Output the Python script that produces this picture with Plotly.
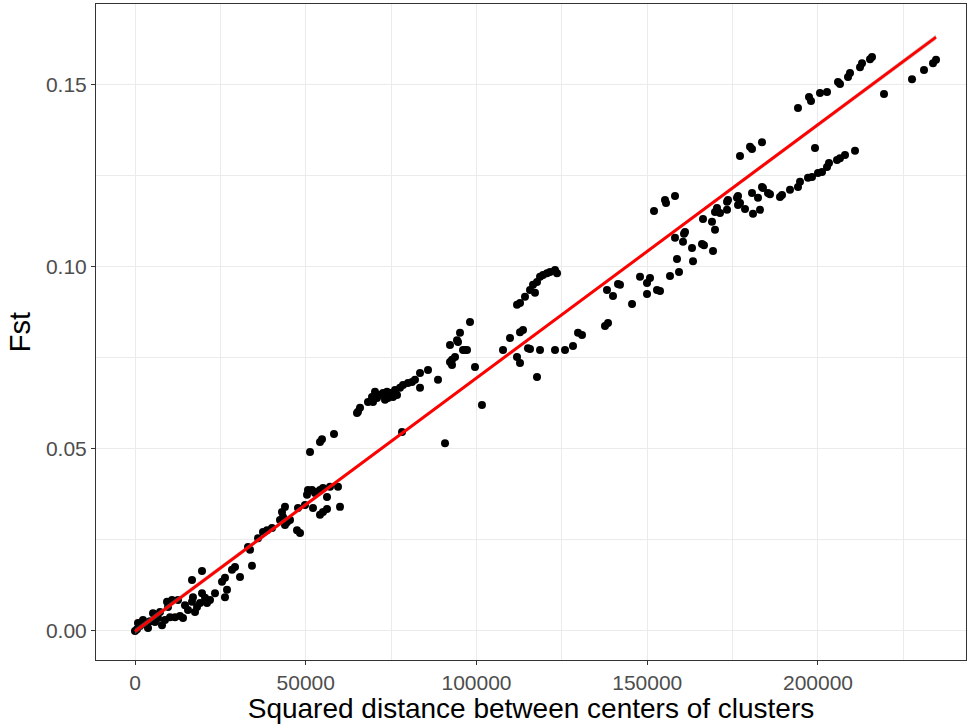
import numpy as np
import plotly.graph_objects as go

# Squared distance between cluster centres and pairwise Fst
sq_dist = [
    0, 880, 2340, 3810, 5270, 7910, 8780, 9370, 10830, 10250, 11710, 13180, 14060,
    15520, 16690, 16980, 17570, 18160, 19030, 19620, 20500, 21080, 16690, 19620,
    23430, 25480, 26350, 26940, 26350, 28400, 29280, 30750, 33680, 33090, 34260,
    590, 1460, 2930, 4390, 6730, 7320, 5860, 9660, 14640, 12590, 21960,
    37480, 38650, 40120, 42460, 43050, 43920, 43340, 44510, 45390, 43920, 47440,
    48320, 47730, 49780, 50370, 50660, 51830, 52710, 53300, 54170, 55050, 56220,
    57100, 59440, 52120, 54170, 55050, 56220, 60030, 51250, 54170, 54760, 58270,
    65010, 65300, 36020,
    65890, 68230, 69400, 69690, 70860, 71740, 72620, 73210, 73790, 74670, 75550,
    76720, 77600, 78480, 79940, 81110, 81990, 83460, 83460, 85800, 88730, 92240,
    92830, 93710, 92240, 94290, 95170, 96640, 98100, 78190, 90780, 70280, 76140,
    74090,
    92830, 94590, 96050, 97220, 99560, 107760, 109810, 111860, 112740, 112740,
    113620, 115080, 115670, 117720, 118600, 122990, 125920, 128260, 129730,
    111860, 112740, 114200, 115670, 116550, 117130, 117720, 118600, 119480,
    120650, 121530, 122990, 123580, 101600,
    130900, 137630, 138510, 145540, 147880, 149930, 150810, 149930, 152860,
    153740, 156660, 159300, 158710, 163400, 163110, 160470, 158130, 161060,
    160760, 166030, 166620, 169260, 166330, 168960, 169840, 169840, 170430,
    151980, 155200, 155500, 158130, 138210, 139970, 141430, 142020,
    171310, 173360, 173360, 173650, 176280, 176580, 176580, 177160, 178630,
    180680, 180970, 183020, 182430, 183600, 183890, 185360, 185940, 188870,
    189460, 191800, 194140, 194730, 197070, 198250, 200000, 201170, 202640,
    203220, 205560, 206440, 207910, 210840, 177160, 180090, 180680, 183600,
    199120,
    194140, 197370, 197950, 200590, 202640, 205860, 206440, 208790, 209370,
    212300, 212890, 215230, 215820, 219330, 227530, 231040, 233680, 234560,
]

fst = [
    0.0000, 0.0022, 0.0030, 0.0008, 0.0049, 0.0016, 0.0030, 0.0080, 0.0085, 0.0038,
    0.0038, 0.0041, 0.0036, 0.0058, 0.0080, 0.0093, 0.0052, 0.0066, 0.0077, 0.0104,
    0.0091, 0.0077, 0.0140, 0.0165, 0.0104, 0.0135, 0.0146, 0.0113, 0.0093, 0.0168,
    0.0176, 0.0148, 0.0223, 0.0231, 0.0179,
    0.0005, 0.0014, 0.0019, 0.0027, 0.0036, 0.0052, 0.0025, 0.0066, 0.0071, 0.0085,
    0.0085,
    0.0272, 0.0277, 0.0283, 0.0305, 0.0327, 0.0341, 0.0313, 0.0299, 0.0305, 0.0291,
    0.0277, 0.0269, 0.0338, 0.0346, 0.0374, 0.0387, 0.0387, 0.0379, 0.0382, 0.0387,
    0.0393, 0.0368, 0.0396, 0.0396, 0.0338, 0.0319, 0.0327, 0.0335, 0.0341, 0.0492,
    0.0519, 0.0527, 0.0541, 0.0599, 0.0602, 0.0255,
    0.0613, 0.0629, 0.0643, 0.0629, 0.0640, 0.0648, 0.0654, 0.0635, 0.0657, 0.0654,
    0.0643, 0.0648, 0.0668, 0.0676, 0.0681, 0.0684, 0.0690, 0.0709, 0.0668, 0.0717,
    0.0690, 0.0739, 0.0731, 0.0753, 0.0786, 0.0799, 0.0819, 0.0772, 0.0849, 0.0547,
    0.0516, 0.0657, 0.0662, 0.0640,
    0.0745, 0.0794, 0.0772, 0.0772, 0.0725, 0.0772, 0.0805, 0.0753, 0.0736, 0.0821,
    0.0827, 0.0777, 0.0775, 0.0698, 0.0772, 0.0772, 0.0772, 0.0783, 0.0819,
    0.0896, 0.0901, 0.0918, 0.0937, 0.0951, 0.0929, 0.0959, 0.0973, 0.0978,
    0.0983, 0.0986, 0.0992, 0.0983, 0.0621,
    0.0813, 0.0838, 0.0846, 0.0898, 0.0973, 0.0956, 0.0970, 0.0926, 0.0937,
    0.0934, 0.0975, 0.0986, 0.1022, 0.1016, 0.1052, 0.1069, 0.1080, 0.1096,
    0.1091, 0.1063, 0.1060, 0.1044, 0.1132, 0.1124, 0.1102, 0.1151, 0.1162,
    0.1154, 0.1184, 0.1176, 0.1195, 0.0937, 0.0920, 0.0953, 0.0951,
    0.1148, 0.1157, 0.1179, 0.1184, 0.1190, 0.1195, 0.1170, 0.1176, 0.1159,
    0.1203, 0.1146, 0.1157, 0.1190, 0.1220, 0.1217, 0.1203, 0.1200, 0.1192,
    0.1198, 0.1212, 0.1220, 0.1234, 0.1245, 0.1247, 0.1258, 0.1261, 0.1275,
    0.1286, 0.1294, 0.1299, 0.1308, 0.1319, 0.1305, 0.1330, 0.1324, 0.1343,
    0.1327,
    0.1437, 0.1467, 0.1456, 0.1478, 0.1481, 0.1508, 0.1503, 0.1522, 0.1533,
    0.1549, 0.1560, 0.1571, 0.1577, 0.1475, 0.1516, 0.1541, 0.1560, 0.1569,
]

# Linear fit (intercept, slope) and its 95% band half-widths at the centre / ends
fit_intercept = -0.0001
fit_slope = 6.96e-7
band_half_mid = 0.0003
band_half_end = 0.0008

x_ticks = [0, 50000, 100000, 150000, 200000]
y_ticks = [0.00, 0.05, 0.10, 0.15]

x = np.array(sq_dist, dtype=float)
y = np.array(fst, dtype=float)

xs = np.linspace(x.min(), x.max(), 80)
ys = fit_intercept + fit_slope * xs
xc = 0.5 * (x.min() + x.max())
u = (xs - xc) / (x.max() - xc)
half = np.sqrt(band_half_mid ** 2 + (band_half_end ** 2 - band_half_mid ** 2) * u ** 2)
lo, hi = ys - half, ys + half

FONT = "Liberation Sans, Arial, sans-serif"

fig = go.Figure()
fig.add_trace(go.Scatter(
    x=x, y=y, mode="markers",
    marker=dict(color="black", size=8, line=dict(width=0)),
    hoverinfo="x+y", showlegend=False,
))
fig.add_trace(go.Scatter(
    x=np.concatenate([xs, xs[::-1]]), y=np.concatenate([hi, lo[::-1]]),
    fill="toself", fillcolor="rgba(153,153,153,0.4)", line=dict(width=0),
    hoverinfo="skip", showlegend=False,
))
fig.add_trace(go.Scatter(
    x=xs, y=ys, mode="lines", line=dict(color="#FF0000", width=3),
    hoverinfo="skip", showlegend=False,
))

axis_common = dict(
    showline=True, linecolor="#333333", linewidth=1, mirror=True,
    ticks="outside", ticklen=4, tickcolor="#333333", tickwidth=1,
    showgrid=True, gridcolor="#EBEBEB", gridwidth=1.1,
    zeroline=False,
    tickfont=dict(family=FONT, size=21, color="#4D4D4D"),
)

fig.update_xaxes(
    **axis_common,
    range=[-11420, 243340],
    tickvals=x_ticks, ticktext=[str(v) for v in x_ticks],
    minor=dict(showgrid=True, gridcolor="#EBEBEB", gridwidth=0.6, dtick=25000, tick0=0, ticks=""),
    title=dict(text="Squared distance between centers of clusters",
               font=dict(family=FONT, size=28, color="black"), standoff=4),
)
fig.update_yaxes(
    **axis_common,
    range=[-0.00797, 0.17225],
    tickvals=y_ticks, ticktext=[f"{v:.2f}" for v in y_ticks],
    minor=dict(showgrid=True, gridcolor="#EBEBEB", gridwidth=0.6, dtick=0.025, tick0=0, ticks=""),
    title=dict(text="Fst", font=dict(family=FONT, size=29, color="black"), standoff=6),
)

fig.update_layout(
    width=967, height=724,
    margin=dict(l=96, r=1, t=4, b=64),
    paper_bgcolor="white", plot_bgcolor="white",
    showlegend=False,
)

fig.write_html("out.html")
